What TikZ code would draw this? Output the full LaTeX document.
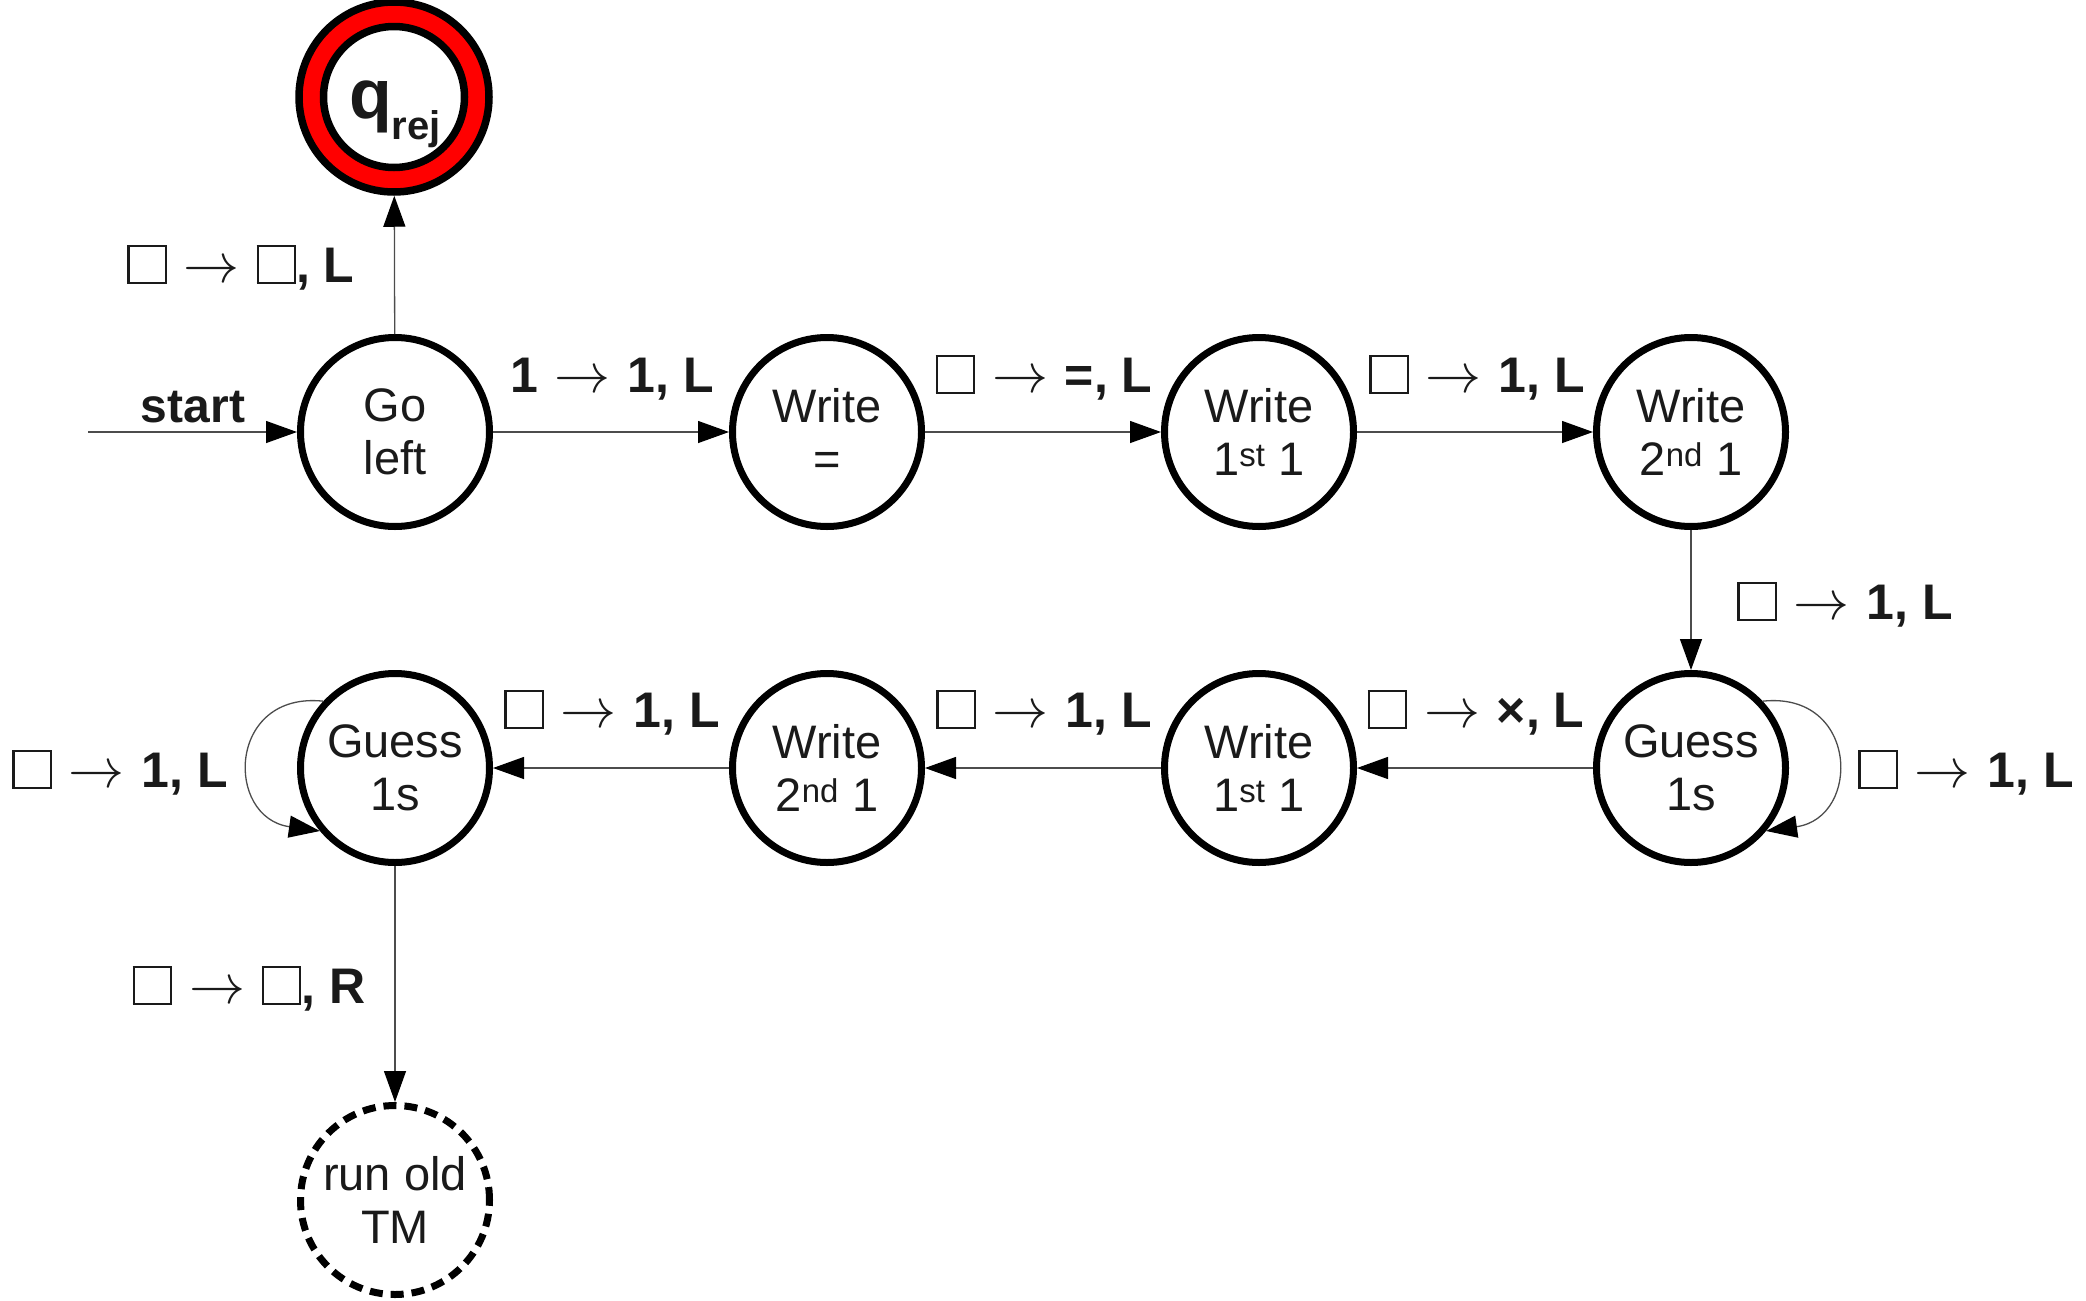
\documentclass[tikz,border=0pt]{standalone}
\usepackage{fontspec}
\setmainfont{Liberation Sans}
\usetikzlibrary{arrows.meta}
\definecolor{txt}{HTML}{1A1A1A}
\definecolor{rejred}{HTML}{FF0000}
\newcommand\tbox{{\setlength\fboxsep{0pt}\setlength\fboxrule{0.045em}\fbox{\rule{0pt}{0.7em}\rule{0.7em}{0pt}}}}
\newcommand\arr{\hspace{3pt}\scalebox{5.6}{\fontsize{10}{12}\selectfont$\rightarrow$}\hspace{3pt}}
\tikzset{
  statenode/.style={circle,draw=black,line width=7pt,minimum size=189pt,inner sep=0pt,align=center,
    font=\fontsize{47}{53}\selectfont,text=txt,fill=white},
  lbl/.style={anchor=base,inner sep=0pt,font=\fontsize{50}{56}\selectfont\bfseries,text=txt},
  edge/.style={line width=1.3pt,draw=black!70,-{Triangle[length=31pt,width=22pt,color=black]}}
}
\begin{document}
\begin{tikzpicture}[x=1pt,y=1pt]
\useasboundingbox (0,0) rectangle (2086,-1301);
% states
\node[statenode] (go) at (395,-432) {Go\\left};
\node[statenode] (weq) at (827,-432) {Write\\=};
\node[statenode] (wa) at (1259,-432) {Write\\1\textsuperscript{st} 1};
\node[statenode] (wb) at (1691,-432) {Write\\2\textsuperscript{nd} 1};
\node[statenode] (gr) at (1691,-768) {Guess\\1s};
\node[statenode] (wc) at (1259,-768) {Write\\1\textsuperscript{st} 1};
\node[statenode] (wd) at (827,-768) {Write\\2\textsuperscript{nd} 1};
\node[statenode] (gl) at (395,-768) {Guess\\1s};
\node[statenode,dash pattern=on 13pt off 8pt] (old) at (395,-1200) {run old\\TM};
\node[circle,draw=black,line width=7.5pt,fill=rejred,minimum size=190pt,inner sep=0pt] (rej) at (394,-97) {};
\node[circle,draw=black,line width=7.5pt,fill=white,minimum size=141pt,inner sep=0pt] (rejin) at (394,-97) {};
\node[text=txt,inner sep=0pt] (rejtxt) at (395,-114)
  {\fontsize{70}{76}\selectfont\bfseries q\raisebox{-0.3em}{\fontsize{40}{44}\selectfont rej}};
% start
\coordinate (st) at (88,-432);
\draw[edge] (st) -- (go);
\node[lbl,font=\fontsize{48}{54}\selectfont\bfseries] (stl) at (193,-422) {start};
% edges
\draw[edge] (go) -- (rej);
\draw[edge] (go) -- (weq);
\draw[edge] (weq) -- (wa);
\draw[edge] (wa) -- (wb);
\draw[edge] (wb) -- (gr);
\draw[edge] (gr) -- (wc);
\draw[edge] (wc) -- (wd);
\draw[edge] (wd) -- (gl);
\draw[edge] (gl) -- (old);
\draw[edge] (gr.43) to[out=6,in=8,looseness=1.9] (gr.-40);
\draw[edge] (gl.137) to[out=174,in=172,looseness=1.9] (gl.220);
% labels
\node[lbl] (l0) at (241,-282) {\tbox{} \arr{} \tbox, L};
\node[lbl] (l1) at (612,-392) {1 \arr{} 1, L};
\node[lbl] (l2) at (1044,-392) {\tbox{} \arr{} =, L};
\node[lbl] (l3) at (1477,-392) {\tbox{} \arr{} 1, L};
\node[lbl] (l4) at (1845,-619) {\tbox{} \arr{} 1, L};
\node[lbl] (l5) at (1966,-787) {\tbox{} \arr{} 1, L};
\node[lbl] (l6) at (1476,-727) {\tbox{} \arr{} ×, L};
\node[lbl] (l7) at (1044,-727) {\tbox{} \arr{} 1, L};
\node[lbl] (l8) at (612,-727) {\tbox{} \arr{} 1, L};
\node[lbl] (l9) at (120,-787) {\tbox{} \arr{} 1, L};
\node[lbl] (l10) at (249,-1003) {\tbox{} \arr{} \tbox, R};
\end{tikzpicture}
\end{document}
